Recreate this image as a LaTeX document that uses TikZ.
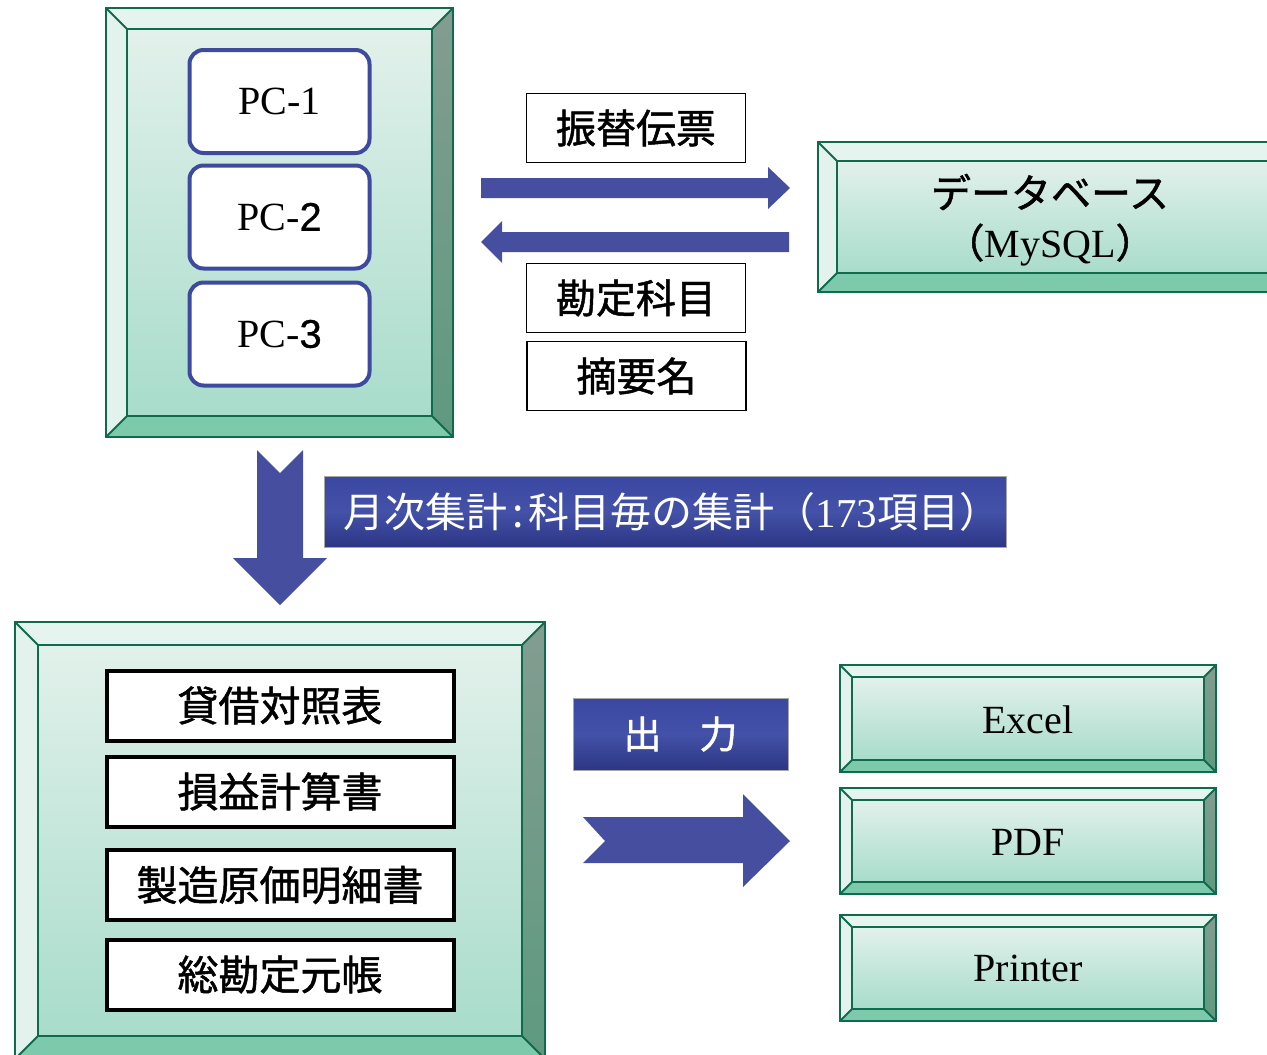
\documentclass[tikz,border=0pt]{standalone}
\usepackage{fontspec}
\setmainfont{Liberation Serif}
\newfontfamily\jp[FakeBold=1.2]{Noto Sans CJK JP}
\newfontfamily\jpr{Noto Sans CJK JP}
\newfontfamily\sansdig[FakeBold=0.6]{Liberation Sans}
\definecolor{bvstroke}{HTML}{0F6B4E}
\definecolor{bvtopc}{HTML}{E6F4EF}
\definecolor{bvleftc}{HTML}{E3F2EC}
\definecolor{bvrtA}{HTML}{839C91}
\definecolor{bvrtB}{HTML}{5E9A7F}
\definecolor{bvbotc}{HTML}{7CC9AB}
\definecolor{bvinA}{HTML}{E2F1EB}
\definecolor{bvinB}{HTML}{A8DCCB}
\definecolor{pcblue}{HTML}{3E4A9E}
\definecolor{arrowblue}{HTML}{464F9F}
\definecolor{bnA}{HTML}{3B48A2}
\definecolor{bnB}{HTML}{2C3684}
\definecolor{bnC}{HTML}{4351A8}
\newcommand\bevelbox[5]{%
 \path[fill=bvtopc] (#1,#2) -- (#3,#2) -- ({#3-#5},{#2+#5}) -- ({#1+#5},{#2+#5}) -- cycle;
 \path[fill=bvleftc] (#1,#2) -- ({#1+#5},{#2+#5}) -- ({#1+#5},{#4-#5}) -- (#1,#4) -- cycle;
 \path[top color=bvrtA,bottom color=bvrtB] (#3,#2) -- (#3,#4) -- ({#3-#5},{#4-#5}) -- ({#3-#5},{#2+#5}) -- cycle;
 \path[fill=bvbotc] (#1,#4) -- (#3,#4) -- ({#3-#5},{#4-#5}) -- ({#1+#5},{#4-#5}) -- cycle;
 \path[top color=bvinA,bottom color=bvinB] ({#1+#5},{#2+#5}) rectangle ({#3-#5},{#4-#5});
 \draw[bvline] (#1,#2) rectangle (#3,#4);
 \draw[bvline] ({#1+#5},{#2+#5}) rectangle ({#3-#5},{#4-#5});
 \draw[bvline] (#1,#2) -- ({#1+#5},{#2+#5}) (#3,#2) -- ({#3-#5},{#2+#5})
   (#1,#4) -- ({#1+#5},{#4-#5}) (#3,#4) -- ({#3-#5},{#4-#5});
}
\tikzset{
 bvline/.style={draw=bvstroke, line width=1.8pt},
 pcbox/.style={draw=pcblue, line width=4pt, rounded corners=14pt, fill=white,
   minimum width=180pt, minimum height=103pt, inner sep=0pt,
   font=\fontsize{40}{44}\selectfont},
 lblbox/.style={draw=black, line width=1.8pt, fill=white, minimum width=219pt,
   minimum height=69pt, inner sep=0pt, font=\jp\fontsize{40}{44}\selectfont},
 docbox/.style={draw=black, line width=4pt, fill=white, minimum width=347pt,
   minimum height=70pt, inner sep=0pt, font=\jp\fontsize{41}{44}\selectfont},
 blk/.style={fill=arrowblue},
 banner/.style={draw=black!35, line width=0.8pt, top color=bnA, bottom color=bnB,
   middle color=bnC, text=white, inner sep=0pt},
 bvtext/.style={font=\fontsize{40}{44}\selectfont, inner sep=0pt},
}
\begin{document}
\begin{tikzpicture}[x=1pt,y=-1pt]
\useasboundingbox (0,0) rectangle (1267,1055);
% containers
\bevelbox{106}{8}{453}{437}{21}
\bevelbox{818}{142}{1287}{292}{19}
\bevelbox{15}{622}{545}{1059}{23}
\bevelbox{840}{665}{1216}{772}{12}
\bevelbox{840}{788}{1216}{894}{12}
\bevelbox{840}{915}{1216}{1021}{12}
% PCs
\node[pcbox] (pc1) at (279.5,101.5) {PC-1};
\node[pcbox] (pc2) at (279.5,217) {PC-{\sansdig 2}};
\node[pcbox] (pc3) at (279.5,334) {PC-{\sansdig 3}};
% labels
\node[lblbox] (furikae) at (636,128) {振替伝票};
\node[lblbox] (kanjo) at (636,298) {勘定科目};
\node[lblbox] (tekiyo) at (636.5,376) {摘要名};
% database
\node[bvtext] (db) at (1050,192) {\jp データベース};
\node[bvtext] (mysql) at (1050,245) {{\jp （}MySQL{\jp ）}};
% arrows between PC and DB
\path[blk] (481,178) -- (768,178) -- (768,167) -- (790,188) -- (768,209) -- (768,198) -- (481,198) -- cycle;
\path[blk] (789,232) -- (502,232) -- (502,221) -- (481,242) -- (502,263) -- (502,252) -- (789,252) -- cycle;
% down arrow
\path[blk] (257,450) -- (280,473) -- (303,450) -- (303,558) -- (327,558) -- (280,605) -- (233,558) -- (257,558) -- cycle;
% banner
\node[banner, minimum width=682pt, minimum height=71pt] (monthly) at (665,511.5) {};
\node[text=white, inner sep=0pt] (monthlytext) at (672,512)
  {\jpr\fontsize{41}{44}\selectfont 月次集計\hspace{5pt}:\hspace{5pt}科目毎の集計（{\rmfamily 173}項目）};
% documents
\node[docbox] (bs) at (280,705.5) {貸借対照表};
\node[docbox] (pl) at (280,791.5) {損益計算書};
\node[docbox] (mfg) at (280,885) {製造原価明細書};
\node[docbox] (gl) at (280,974.5) {総勘定元帳};
% output
\node[banner, minimum width=215pt, minimum height=72pt] (out) at (680.5,734)
  {\jp\fontsize{38}{44}\selectfont 出\hspace{1em}力};
\path[blk] (583,817) -- (743,817) -- (743,794) -- (790,841) -- (743,887) -- (743,863) -- (583,863) -- (605,841) -- cycle;
\node[bvtext] (excel) at (1028,720) {Excel};
\node[bvtext] (pdf) at (1028,842) {PDF};
\node[bvtext] (printer) at (1028,968) {Printer};
\end{tikzpicture}
\end{document}
